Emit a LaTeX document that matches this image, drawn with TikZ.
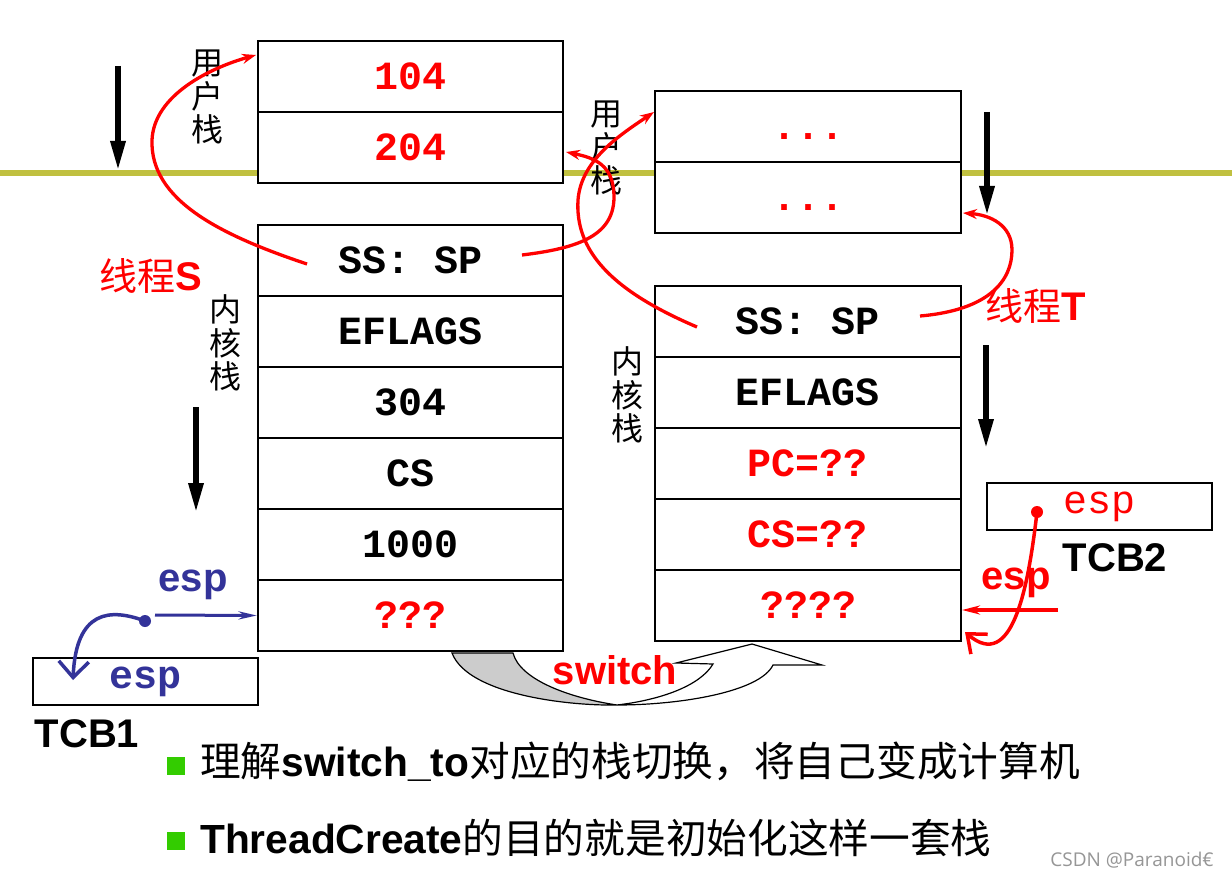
\documentclass[tikz,border=0pt]{standalone}
\usepackage{fontspec}
\setmainfont{Liberation Sans}
\newfontfamily\monof{Liberation Mono}
\newfontfamily\cjkf{Noto Sans CJK SC}
\newfontfamily\wmf{Open Sans}
\usetikzlibrary{arrows.meta,calc}
\definecolor{olivel}{RGB}{192,192,64}
\definecolor{espblue}{RGB}{51,51,153}
\definecolor{bgreen}{RGB}{51,204,0}
\definecolor{wmgray}{RGB}{150,150,150}
\definecolor{swgray}{RGB}{204,204,204}
\newcommand\fsz[1]{\fontsize{#1}{#1}\selectfont}
\begin{document}
\begin{tikzpicture}[x=1pt,y=-1pt,
  cell/.style={draw,line width=2.5pt,fill=white,minimum width=305pt,minimum height=71pt,inner sep=0pt,text height=26pt,text depth=0pt,font=\monof\bfseries\fsz{40}},
  tcb/.style={draw,line width=2.5pt,fill=white,minimum width=225pt,minimum height=47pt,inner sep=0pt},
  vlab/.style={align=center,inner sep=0pt,font=\cjkf\fontsize{32}{33.5}\selectfont},
  lab/.style={inner sep=0pt,font=\bfseries\fsz{40}},
  blkarr/.style={line width=6pt,-{Triangle[length=30pt,width=14pt]}},
  redarr/.style={red,line width=3.3pt,-{Stealth[length=14pt,width=10pt]}},
  sq/.style={fill=bgreen,minimum size=18pt,inner sep=0pt},
  btxt/.style={anchor=west,inner sep=0pt,font=\fsz{40.7}}
]
\useasboundingbox (0,0) rectangle (1232,880);
\fill[white] (0,0) rectangle (1232,880);
% olive boundary line
\coordinate (olA) at (0,173);
\coordinate (olB) at (1232,173);
\draw[olivel,line width=6pt] (olA) -- (olB);

% left user stack
\node[cell,text=red] (lu1) at (410.5,76.5) {104};
\node[cell,text=red] (lu2) at (410.5,147.5) {204};
% right user stack
\node[cell,minimum width=306pt,text=red] (ru1) at (808,126.5) {...};
\node[cell,minimum width=306pt,text=red] (ru2) at (808,197.5) {...};
% left kernel stack
\node[cell] (lk1) at (410.5,260.5) {SS: SP};
\node[cell] (lk2) at (410.5,331.5) {EFLAGS};
\node[cell] (lk3) at (410.5,402.5) {304};
\node[cell] (lk4) at (410.5,473.5) {CS};
\node[cell] (lk5) at (410.5,544.5) {1000};
\node[cell,text=red] (lk6) at (410.5,615.5) {???};
% right kernel stack
\node[cell,minimum width=306pt] (rk1) at (808,321.5) {SS: SP};
\node[cell,minimum width=306pt] (rk2) at (808,392.5) {EFLAGS};
\node[cell,minimum width=306pt,text=red] (rk3) at (808,463.5) {PC=??};
\node[cell,minimum width=306pt,text=red] (rk4) at (808,534.5) {CS=??};
\node[cell,minimum width=306pt,text=red] (rk5) at (808,605.5) {????};

% TCB boxes
\node[tcb,font=\monof\bfseries\fsz{40},text=espblue] (tcb1) at (145.5,681.5) {esp};
\node[lab] (tcb1l) at (87,734) {TCB1};
\node[tcb,font=\monof\fsz{40},text=red] (tcb2) at (1099.5,506.5) {esp};
\node[lab] (tcb2l) at (1115,558) {TCB2};

% vertical labels
\node[vlab] (lul) at (207,97) {用\\户\\栈};
\node[vlab] (rul) at (606,148) {用\\户\\栈};
\node[vlab] (lkl) at (225,343) {内\\核\\栈};
\node[vlab] (rkl) at (627,395) {内\\核\\栈};

% black direction arrows
\coordinate (a1s) at (118,66);  \coordinate (a1e) at (118,171);
\coordinate (a2s) at (196,407); \coordinate (a2e) at (196,513);
\coordinate (a3s) at (987,112); \coordinate (a3e) at (987,216);
\coordinate (a4s) at (986,345); \coordinate (a4e) at (986,449);
\draw[blkarr] (a1s) -- (a1e);
\draw[blkarr] (a2s) -- (a2e);
\draw[blkarr] (a3s) -- (a3e);
\draw[blkarr] (a4s) -- (a4e);

% thread labels
\node[lab,text=red] (thS) at (151,276) {{\cjkf\mdseries\fsz{38}线程}S};
\node[lab,text=red] (thT) at (1036,306) {{\cjkf\mdseries\fsz{38}线程}T};

% thread curves
\coordinate (s1a) at (307,264);  \coordinate (s1b) at (256,55);
\coordinate (s2a) at (522,255);  \coordinate (s2b) at (566,152);
\coordinate (t1a) at (697,327);  \coordinate (t1b) at (654,112);
\coordinate (t2a) at (920,316);  \coordinate (t2b) at (963,213);
\draw[redarr] (s1a) .. controls (220,235) and (150,200) .. (152,140)
  .. controls (154,95) and (210,68) .. (s1b);
\draw[redarr] (s2a) .. controls (580,248) and (615,235) .. (614,195)
  .. controls (613,165) and (595,158) .. (s2b);
\draw[redarr] (t1a) .. controls (610,290) and (575,250) .. (578,200)
  .. controls (581,160) and (620,135) .. (t1b);
\draw[redarr] (t2a) .. controls (990,310) and (1012,280) .. (1012,250)
  .. controls (1012,225) and (990,215) .. (t2b);

% switch ribbon arrow
\coordinate (swL1) at (452,653);
\coordinate (swL2) at (513,653);
\coordinate (swM) at (617,705);
\coordinate (swN1) at (713,664);
\coordinate (swB1) at (676,663);
\coordinate (swT) at (752,644);
\coordinate (swB2) at (822,665);
\coordinate (swN2) at (773,665);
\filldraw[fill=swgray,draw=black,line width=1.2pt] (swL1) .. controls (468,695) and (570,706) .. (swM)
  .. controls (570,698) and (520,680) .. (swL2) -- cycle;
\filldraw[fill=white,draw=black,line width=1.2pt] (swM) .. controls (680,705) and (760,692) .. (swN2)
  -- (swB2) -- (swT) -- (swB1) -- (swN1) .. controls (700,686) and (660,700) .. (swM);
\node[lab,text=red] (swl) at (615,670) {switch};

% blue esp (TCB1)
\coordinate (bdot) at (145,621);
\coordinate (bst) at (155,615);
\coordinate (bend) at (73,680);
\node[lab,text=espblue] (bespl) at (193,585) {esp};
\fill[espblue] (bdot) circle (6);
\draw[espblue,line width=3pt,-{Stealth[length=18pt,width=8pt]}] (bst) -- (lk6.west);
\draw[espblue,line width=3.5pt,-{Straight Barb[length=16pt,width=30pt]}] (bdot) .. controls (110,608) and (76,610) .. (bend);

% red esp (TCB2)
\coordinate (rdot) at (1037,512);
\coordinate (rst) at (1058,610);
\coordinate (ren) at (962,610);
\coordinate (rtip) at (965,632);
\node[lab,text=red] (respl) at (1016,583) {esp};
\draw[red,line width=3.5pt,-{Stealth[length=18pt,width=9pt]}] (rst) -- (ren);
\fill[red] (rdot) circle (6);
\draw[red,line width=3.5pt,-{Straight Barb[length=16pt,width=26pt]}] (rdot) .. controls (1028,590) and (1012,672) .. (rtip);

% bullets
\node[sq] (sq1) at (176,766) {};
\node[sq] (sq2) at (176,841) {};
\node[btxt] (bt1) at (200,762) {{\cjkf 理解}\textbf{switch\_to}{\cjkf 对应的栈切换，将自己变成计算机}};
\node[btxt] (bt2) at (200,838) {\textbf{ThreadCreate}{\cjkf 的目的就是初始化这样一套栈}};

% watermark
\node[inner sep=0pt,font=\wmf\fsz{19},text=wmgray] (wm) at (1132,860) {CSDN @Paranoid€};
\end{tikzpicture}
\end{document}
